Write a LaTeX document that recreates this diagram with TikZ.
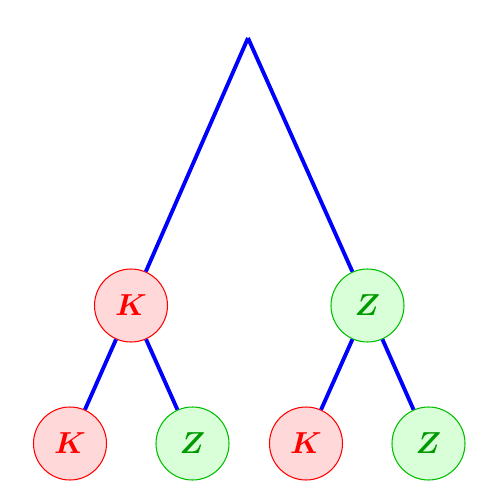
\documentclass[tikz,border=0pt]{standalone}
\usepackage{amsmath}
\usetikzlibrary{positioning}

\begin{document}
\begin{tikzpicture}[%
    on grid,
    leaf/.style={circle, minimum size=1.46cm, inner sep=0pt, line width=0.6pt, font=\LARGE},
    kay/.style={leaf, draw=red, fill=red!15, text=red},
    zed/.style={leaf, draw=green!75!black, fill=green!15, text=green!60!black},
    branch/.style={draw=blue, line width=2.2pt}
  ]
    \useasboundingbox (0,0) rectangle (10,-10.04);
    \coordinate (R) at (4.96,-0.76);
    \node[kay] (K) at (2.62,-6.11) {$\boldsymbol{K}$};
    \node[zed] (Z) at (7.35,-6.11) {$\boldsymbol{Z}$};
    \node[kay] (KK) [below left=2.76cm and 1.22cm of K] {$\boldsymbol{K}$};
    \node[zed] (KZ) [below right=2.76cm and 1.23cm of K] {$\boldsymbol{Z}$};
    \node[kay] (ZK) [below left=2.76cm and 1.23cm of Z] {$\boldsymbol{K}$};
    \node[zed] (ZZ) [below right=2.76cm and 1.22cm of Z] {$\boldsymbol{Z}$};

    \path[branch] (R) edge (K)
                  (R) edge (Z)
                  (K) edge (KK)
                  (K) edge (KZ)
                  (Z) edge (ZK)
                  (Z) edge (ZZ);
  \end{tikzpicture}
\end{document}
